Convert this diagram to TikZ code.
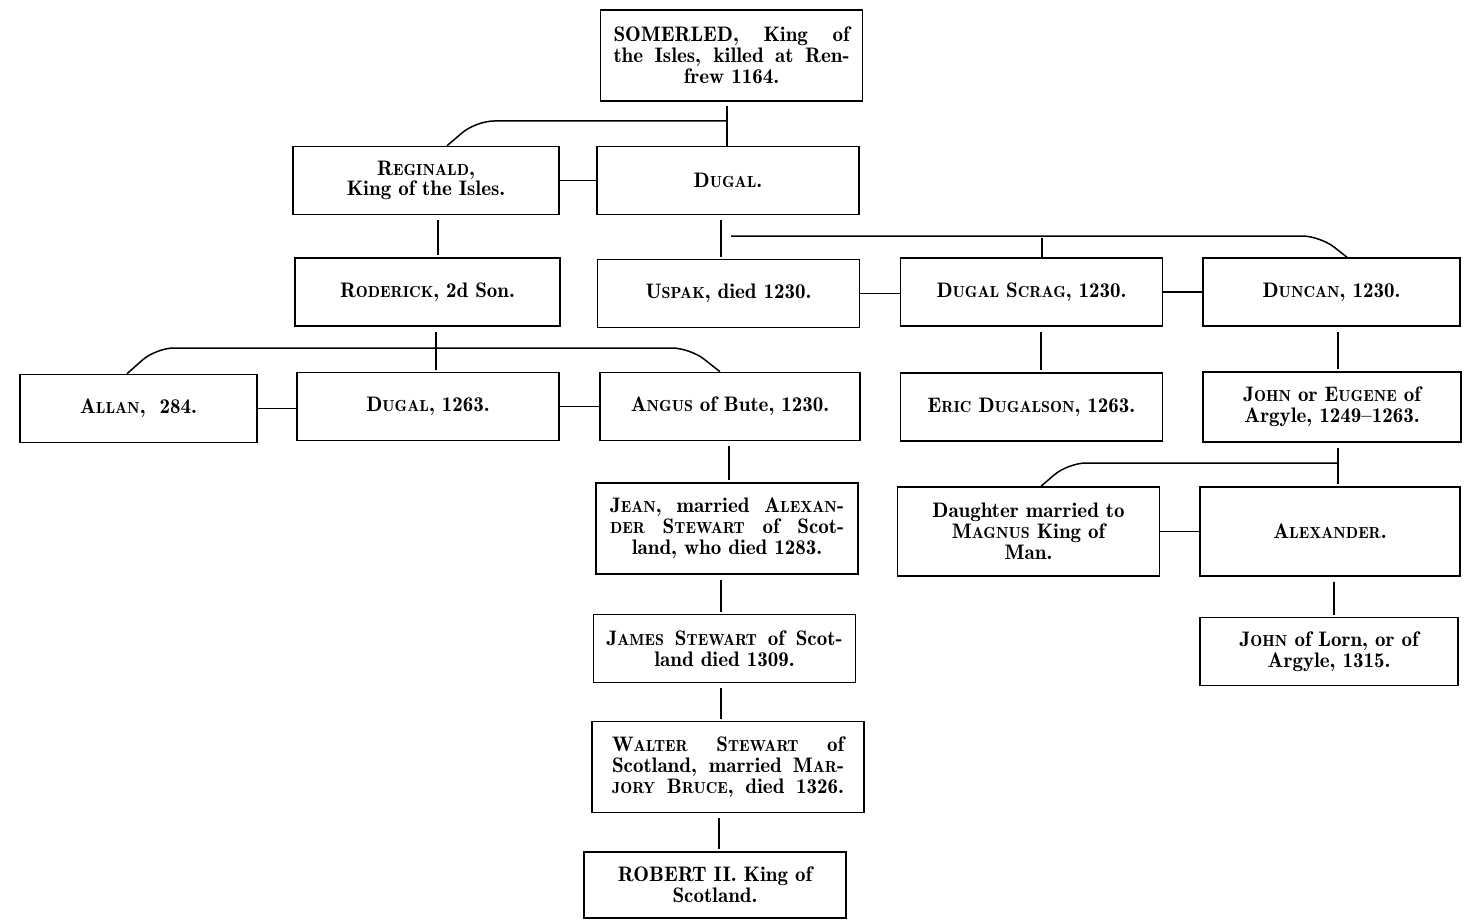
\documentclass[tikz,border=0pt]{standalone}
\usetikzlibrary{calc}
\newcommand\smc[1]{{\fontsize{8}{10}\selectfont #1}}
\newcommand\jl[2]{\makebox[#1][s]{#2}}
\begin{document}
\begin{tikzpicture}[x=0.5pt,y=-0.5pt,
  box/.style={draw, line width=0.75pt, inner sep=0pt, align=center,
    minimum width=131pt, minimum height=34pt,
    font=\fontsize{10.5}{10.4}\fontseries{b}\selectfont},
  tall/.style={minimum height=45.5pt},
  ln/.style={line width=0.75pt},
  vert/.style={ln, shorten <=2.5pt, shorten >=1pt},
  branch/.style={ln, rounded corners=9pt},
]
\useasboundingbox (0,0) rectangle (1466,920);

% nodes
\node[box,tall] (som) at (731.5,55.5) {\jl{118pt}{SOMERLED, King of}\\ \jl{118pt}{the Isles, killed at Ren-}\\ frew 1164.};
\node[box,minimum width=133pt] (reg) at (426,180.5) {R\smc{EGINALD},\\ King of the Isles.};
\node[box] (dug) at (728,180.5) {D\smc{UGAL}.};
\node[box,minimum width=132.5pt] (rod) at (427.5,292) {R\smc{ODERICK}, 2d Son.};
\node[box] (usp) at (728.5,293.5) {U\smc{SPAK}, died 1230.};
\node[box] (scr) at (1031.5,292) {D\smc{UGAL} S\smc{CRAG}, 1230.};
\node[box,minimum width=128.5pt] (dun) at (1331.5,292) {D\smc{UNCAN}, 1230.};
\node[box,minimum width=118.5pt] (all) at (138.5,408.5) {A\smc{LLAN},\ \ 284.};
\node[box] (dugb) at (428,406.5) {D\smc{UGAL}, 1263.};
\node[box,minimum width=130pt] (ang) at (730,406.5) {A\smc{NGUS} of Bute, 1230.};
\node[box] (eric) at (1031.5,407) {E\smc{RIC} D\smc{UGALSON}, 1263.};
\node[box,minimum width=129pt,minimum height=35pt] (john) at (1332,407) {J\smc{OHN} or E\smc{UGENE} of\\ Argyle, 1249--1263.};
\node[box,tall] (jean) at (727,528.5) {\jl{117pt}{J\smc{EAN}, married A\smc{LEXAN}-}\\ \jl{117pt}{\smc{DER} S\smc{TEWART} of Scot-}\\ land, who died 1283.};
\node[box] (james) at (724.5,648.5) {\jl{118pt}{J\smc{AMES} S\smc{TEWART} of Scot-}\\ land died 1309.};
\node[box,tall,minimum width=136pt] (walt) at (728,767) {\jl{116pt}{W\smc{ALTER} S\smc{TEWART} of}\\ \jl{116pt}{Scotland, married M\smc{AR}-}\\ \jl{116pt}{\smc{JORY} B\smc{RUCE}, died 1326.}};
\node[box,minimum height=33pt] (rob) at (715,885) {ROBERT II. King of\\ Scotland.};
\node[box,minimum height=44.5pt] (dau) at (1028.5,531.5) {Daughter married to\\ M\smc{AGNUS} King of\\ Man.};
\node[box,minimum width=130pt,minimum height=44.5pt] (alex) at (1330,531.5) {A\smc{LEXANDER}.};
\node[box,minimum width=129pt] (lorn) at (1329,651.5) {J\smc{OHN} of Lorn, or of\\ Argyle, 1315.};

% branch points
\coordinate (b1) at (727,121);
\coordinate (b2) at (731,236);
\coordinate (b3) at (436,348);
\coordinate (b4) at (1338,463);

% Somerled
\draw[ln, shorten <=2pt] (som.south -| b1) -- (dug.north -| b1);
\draw[branch] (b1) -- (476,121) -- (reg.north -| 447,0);
\draw[ln] (reg.east) -- (dug.west);

% Reginald line
\draw[vert] (reg.south -| 438,0) -- (rod.north -| 438,0);

% Dugal line
\draw[vert] (dug.south -| 721,0) -- (usp.north -| 721,0);
\draw[branch] (b2) -- (1320,236) -- (dun.north -| 1347,0);
\draw[ln] (1042,238) -- (scr.north -| 1042,0);
\draw[ln] (usp.east) -- (scr.west |- usp.east);
\draw[ln] (scr.east) -- (dun.west |- scr.east);

% Roderick line
\draw[vert] (rod.south -| b3) -- (dugb.north -| b3);
\draw[branch] (all.north -| 127,0) -- (156,348) -- (690,348) -- (ang.north -| 720,0);
\draw[ln] (all.east) -- (dugb.west |- all.east);
\draw[ln] (dugb.east) -- (ang.west);

% Dugal Scrag, Duncan
\draw[vert] (scr.south -| 1041,0) -- (eric.north -| 1041,0);
\draw[vert] (dun.south -| 1338,0) -- (john.north -| 1338,0);

% Angus line
\draw[vert] (ang.south -| 729,0) -- (jean.north -| 729,0);
\draw[vert] (jean.south -| 721,0) -- (james.north -| 721,0);
\draw[vert] (james.south -| 721,0) -- (walt.north -| 721,0);
\draw[vert] (walt.south -| 719,0) -- (rob.north -| 719,0);

% John or Eugene line
\draw[vert] (john.south -| b4) -- (alex.north -| b4);
\draw[branch] (b4) -- (1068,463) -- (dau.north -| 1041,0);
\draw[ln] (dau.east) -- (alex.west);
\draw[vert] (alex.south -| 1334,0) -- (lorn.north -| 1334,0);
\end{tikzpicture}
\end{document}
